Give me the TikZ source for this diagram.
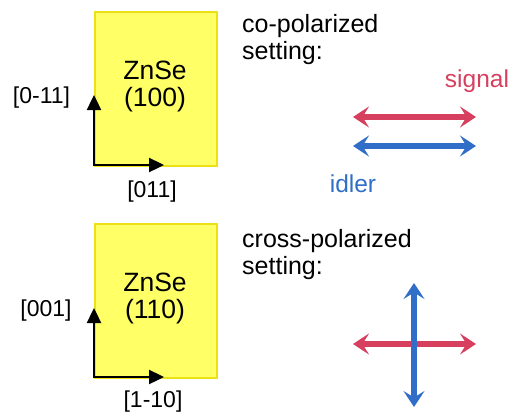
\documentclass[tikz,border=0pt]{standalone}
\usepackage{fontspec}
\setmainfont{Liberation Sans}
\usetikzlibrary{arrows.meta}
\definecolor{sigred}{RGB}{214,64,94}
\definecolor{idlblue}{RGB}{48,110,200}
\definecolor{boxfill}{RGB}{255,255,102}
\definecolor{boxedge}{RGB}{235,225,20}
\begin{document}
\begin{tikzpicture}[x=1pt,y=-1pt,
  crystal/.style={draw=boxedge,fill=boxfill,line width=1.8pt,minimum width=122pt,minimum height=154pt,inner sep=0pt,anchor=north west},
  crystext/.style={align=center,inner sep=0pt,font=\fontsize{26.5}{27}\selectfont},
  axlabel/.style={inner sep=0pt,font=\fontsize{23}{26}\selectfont},
  settext/.style={align=left,inner sep=0pt,anchor=north west,font=\fontsize{25}{27}\selectfont},
  poltext/.style={inner sep=0pt,anchor=base,font=\fontsize{24.5}{27}\selectfont},
  axis/.style={line width=2.4pt,line join=miter,{Triangle[length=15pt,width=14pt]}-{Triangle[length=15pt,width=14pt]}},
  pol/.style={line width=5.5pt,{Stealth[length=16pt,width=21pt,inset=6.5pt]}-{Stealth[length=16pt,width=21pt,inset=6.5pt]}}
]
\useasboundingbox (0,0) rectangle (515,416);

% top crystal
\node[crystal] (box1) at (94,11) {};
\node[crystext] (t1) at (155,86) {ZnSe\\(100)};
\coordinate (o1) at (94,165);
\coordinate (u1) at (94,95);
\coordinate (r1) at (164,165);
\draw[axis] (u1) -- (o1) -- (r1);
\node[axlabel] (lu1) at (41.5,97.5) {[0-11]};
\node[axlabel] (lr1) at (152,192) {[011]};

% bottom crystal
\node[crystal] (box2) at (94,223) {};
\node[crystext] (t2) at (155,298) {ZnSe\\(110)};
\coordinate (o2) at (94,377);
\coordinate (u2) at (94,308);
\coordinate (r2) at (164,377);
\draw[axis] (u2) -- (o2) -- (r2);
\node[axlabel] (lu2) at (46,311) {[001]};
\node[axlabel] (lr2) at (153,402) {[1-10]};

% co-polarized
\node[settext] (co) at (242,14) {co-polarized\\setting:};
\node[poltext,text=sigred] (sig) at (477,87) {signal};
\node[poltext,text=idlblue] (idl) at (353,192) {idler};
\coordinate (sL) at (353,117);
\coordinate (sR) at (476,117);
\coordinate (iL) at (353,146);
\coordinate (iR) at (476,146);
\draw[pol,sigred] (sL) -- (sR);
\draw[pol,idlblue] (iL) -- (iR);

% cross-polarized
\node[settext] (cross) at (242,229) {cross-polarized\\setting:};
\coordinate (hL) at (353,344);
\coordinate (hR) at (476,344);
\coordinate (vT) at (414,283);
\coordinate (vB) at (414,407);
\draw[pol,sigred] (hL) -- (hR);
\draw[pol,idlblue] (vT) -- (vB);
\end{tikzpicture}
\end{document}
